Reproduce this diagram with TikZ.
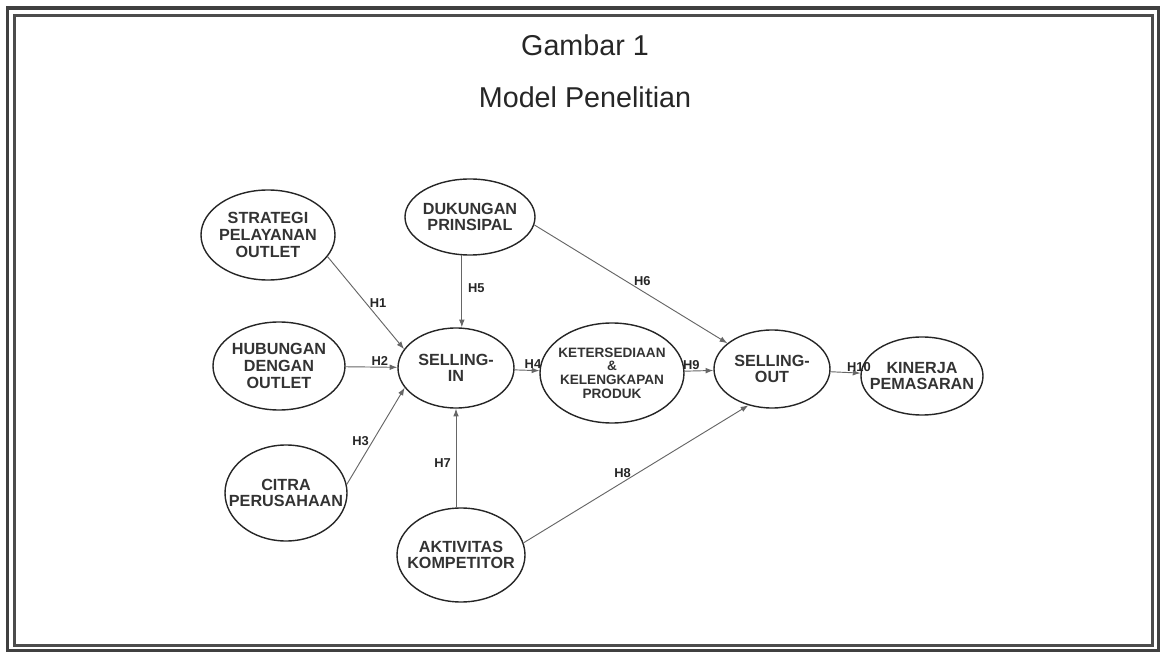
\documentclass[tikz,border=0pt]{standalone}
\usepackage{fontspec}
\setmainfont{Liberation Sans}
\usetikzlibrary{shapes.geometric,arrows.meta}
\tikzset{>={Latex[length=2.3mm,width=1.7mm]}}
\tikzset{
  var/.style={ellipse,draw=black!85,line width=1.2pt,inner xsep=-1cm,inner ysep=-0.4cm,align=center,text=black!80,font=\bfseries\fontsize{13.8}{14.2}\selectfont},
  hyp/.style={->,draw=black!60,line width=0.8pt},
  lab/.style={font=\bfseries\fontsize{11}{11}\selectfont,text=black!85,inner sep=1pt},
  title/.style={font=\fontsize{24.5}{26}\selectfont,text=black!85}
}

\begin{document}
\begin{tikzpicture}[x=0.03cm,y=-0.03cm]
\useasboundingbox (0,0) rectangle (1162,653);
% frame
\draw[black!75,line width=0.1cm] (7.5,8) rectangle (1158.5,650.5);
\draw[black!70,line width=0.09cm] (14,15.5) rectangle (1152.5,645);
% title
\node[title] (gambar) at (585,45) {Gambar 1};
\node[title] (model) at (585,97) {Model Penelitian};
% variables
\node[var,minimum width=4.02cm,minimum height=2.7cm] (strategi) at (268,235) {STRATEGI\\PELAYANAN\\OUTLET};
\node[var,minimum width=3.9cm,minimum height=2.28cm] (dukungan) at (470,217) {DUKUNGAN\\PRINSIPAL};
\node[var,minimum width=3.96cm,minimum height=2.64cm] (hubungan) at (279,366) {HUBUNGAN\\DENGAN\\OUTLET};
\node[var,minimum width=3.48cm,minimum height=2.4cm] (sellin) at (456,368) {SELLING-\\IN};
\node[var,minimum width=4.32cm,minimum height=3cm,font=\bfseries\fontsize{11.6}{11.6}\selectfont] (ketersediaan) at (612,373) {KETERSEDIAAN\\\&\\KELENGKAPAN\\PRODUK};
\node[var,minimum width=3.48cm,minimum height=2.34cm] (sellout) at (772,369) {SELLING-\\OUT};
\node[var,minimum width=3.66cm,minimum height=2.34cm] (kinerja) at (922,376) {KINERJA\\PEMASARAN};
\node[var,minimum width=3.66cm,minimum height=2.88cm] (citra) at (286,493) {CITRA\\PERUSAHAAN};
\node[var,minimum width=3.84cm,minimum height=2.82cm] (aktivitas) at (461,555) {AKTIVITAS\\KOMPETITOR};
% hypotheses
\draw[hyp] (strategi.340) -- node[lab,pos=0.5,right=2pt] {H1} (sellin.160);
\draw[hyp] (hubungan) -- node[lab,pos=0.66,above] {H2} (sellin);
\draw[hyp] (citra.8) -- node[lab,pos=0.45,left=2pt] {H3} (sellin.201);
\draw[hyp] (sellin) -- node[lab,pos=0.74,above] {H4} (ketersediaan);
\draw[hyp] (dukungan.258) -- node[lab,pos=0.45,right=4pt] {H5} (dukungan.258 |- sellin.north);
\draw[hyp] (dukungan.353) -- node[lab,pos=0.56,above=3pt] {H6} (sellout.150);
\draw[hyp] (aktivitas.north -| sellin.south) -- node[lab,pos=0.45,left=3pt] {H7} (sellin.south);
\draw[hyp] (aktivitas.11) -- node[lab,pos=0.44,above=3pt] {H8} (sellout.237);
\draw[hyp] (ketersediaan) -- node[lab,pos=0.23,above] {H9} (sellout);
\draw[hyp] (sellout) -- node[lab,pos=0.95,above] {H10} (kinerja);
\end{tikzpicture}
\end{document}
